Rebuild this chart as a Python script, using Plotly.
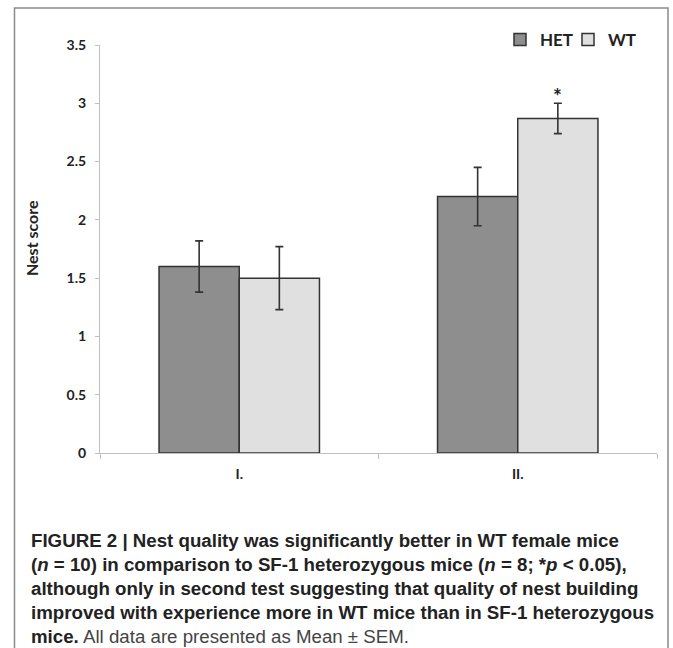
import plotly.graph_objects as go

# ---- data ----
categories = ["I.", "II."]
series_names = ["HET", "WT"]
het_mean = [1.60, 2.20]
het_sem = [0.22, 0.25]
wt_mean = [1.50, 2.87]
wt_sem = [0.27, 0.13]
significance = ["", "*"]
y_tick_vals = [0, 0.5, 1, 1.5, 2, 2.5, 3, 3.5]
y_tick_text = ["0", "0.5", "1", "1.5", "2", "2.5", "3", "3.5"]
y_title = "Nest score"
caption_lines = [
    "<b>FIGURE 2 | Nest quality was significantly better in WT female mice</b>",
    "<b>(<i>n</i> = 10) in comparison to SF-1 heterozygous mice (<i>n</i> = 8; *<i>p</i> &lt; 0.05),</b>",
    "<b>although only in second test suggesting that quality of nest building</b>",
    "<b>improved with experience more in WT mice than in SF-1 heterozygous</b>",
    "<b>mice.</b> <span style='color:#444'>All data are presented as Mean ± SEM.</span>",
]

# ---- layout geometry ----
W, H = 673, 648
L, R, T, B = 100, 16, 45, 195
PW, PH = W - L - R, H - T - B


def px_x(px):
    return (px - L) / PW


def px_y(py):
    return (H - B - py) / PH


BARGAP = 0.424
chart_font = "Lato, 'Open Sans', sans-serif"
err_style = dict(type="data", visible=True, color="#333333", thickness=1.6, width=4)

fig = go.Figure()
fig.add_trace(go.Bar(
    name=series_names[0], x=categories, y=het_mean,
    error_y=dict(array=het_sem, **err_style),
    marker=dict(color="#8e8e8e", line=dict(color="#333333", width=1.5)),
))
fig.add_trace(go.Bar(
    name=series_names[1], x=categories, y=wt_mean,
    error_y=dict(array=wt_sem, **err_style),
    marker=dict(color="#e0e0e0", line=dict(color="#333333", width=1.5)),
))

# significance markers above WT bars
bar_w = (1 - BARGAP) / 2
for i, s in enumerate(significance):
    if s:
        fig.add_annotation(
            x=i + bar_w / 2, y=wt_mean[i] + wt_sem[i], xref="x", yref="y",
            text="<b>" + s + "</b>", showarrow=False, yanchor="bottom",
            yshift=-7, font=dict(family=chart_font, size=21, color="#222"),
        )

# y axis title
fig.add_annotation(
    x=px_x(31), y=px_y(238), xref="paper", yref="paper", text="<b>" + y_title + "</b>",
    xanchor="center", yanchor="middle",
    textangle=-90, showarrow=False, font=dict(family=chart_font, size=16, color="#222"),
)

# caption
for k, line in enumerate(caption_lines):
    fig.add_annotation(
        x=px_x(29), y=px_y(540 + 24.2 * k), xref="paper", yref="paper",
        xanchor="left", yanchor="middle", align="left", showarrow=False, text=line,
        font=dict(family="'Liberation Sans', Arial, sans-serif", size=18.7, color="#222"),
    )

# outer frame
fig.add_shape(type="rect", xref="paper", yref="paper",
              x0=px_x(14.5), x1=px_x(668), y0=px_y(660), y1=px_y(8),
              line=dict(color="#8a8a8a", width=1.5), fillcolor="rgba(0,0,0,0)", layer="above")

fig.update_layout(
    width=W, height=H, autosize=False,
    margin=dict(l=L, r=R, t=T, b=B, pad=0),
    paper_bgcolor="white", plot_bgcolor="white",
    barmode="group", bargap=BARGAP, bargroupgap=0,
    font=dict(family=chart_font, color="#222"),
    showlegend=True,
    legend=dict(orientation="h", x=px_x(500), y=px_y(22), xanchor="left", yanchor="top",
                font=dict(family=chart_font, size=17, color="#222", weight="bold"),
                entrywidth=23, entrywidthmode="pixels",
                bgcolor="rgba(0,0,0,0)", traceorder="normal"),
    xaxis=dict(showline=True, linecolor="#bfbfbf", linewidth=1.2, ticks="outside",
               tickson="boundaries", ticklen=5, tickcolor="#bfbfbf", range=[-0.5, 1.5],
               tickfont=dict(family=chart_font, size=14, color="#222", weight="bold"),
               ticklabelstandoff=8, showgrid=False, zeroline=False),
    yaxis=dict(range=[0, 3.5], tickvals=y_tick_vals, ticktext=y_tick_text,
               showline=True, linecolor="#bfbfbf", linewidth=1.2, ticks="outside",
               ticklen=4, tickcolor="#bfbfbf", showgrid=False, zeroline=False,
               tickfont=dict(family=chart_font, size=14, color="#222", weight="bold"),
               ticklabelstandoff=6),
)

fig.write_html("out.html", config={"displayModeBar": False},
               post_script="document.body.style.margin='0px';")
